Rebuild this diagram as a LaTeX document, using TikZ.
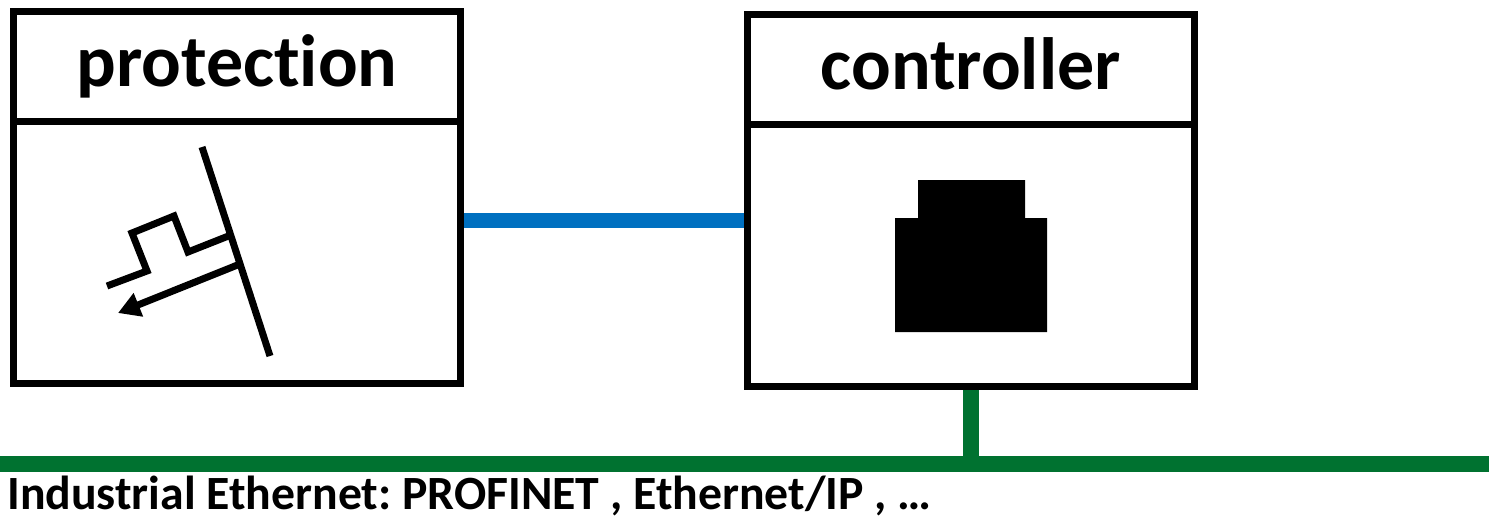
\documentclass[tikz,border=0pt]{standalone}
\usepackage{fontspec}
\setmainfont{Carlito}[Ligatures=NoCommon]
\usetikzlibrary{arrows.meta,backgrounds}
\definecolor{busgreen}{RGB}{0,114,48}
\definecolor{linkblue}{RGB}{0,112,192}
\def\px{0.75pt}
\frenchspacing
\tikzset{
  boxpart/.style={draw=black, fill=white, line width=7*\px, inner sep=0pt, outer sep=0pt, anchor=north west},
  titlepart/.style={boxpart, font=\fontsize{55.5pt}{60pt}\selectfont\bfseries, text height=40*\px, text depth=0pt},
  symline/.style={line width=7*\px, line cap=butt, line join=miter},
  buslink/.style={busgreen, line width=16*\px},
  bluelink/.style={linkblue, line width=15*\px},
}
\begin{document}
\begin{tikzpicture}[x=0.75pt,y=-0.75pt]
\useasboundingbox (0,0) rectangle (1489,519);
% protection
\node[titlepart, minimum width=447*\px, minimum height=110*\px] (ptitle) at (13.5,11) {protection};
\node[boxpart, minimum width=447*\px, minimum height=262*\px] (pbody) at (13.5,121) {};
% controller
\node[titlepart, minimum width=447.5*\px, minimum height=110*\px] (ctitle) at (747,14.5) {controller};
\node[boxpart, minimum width=447.5*\px, minimum height=261.5*\px] (cbody) at (747,124.5) {};
% coordinates
\coordinate (blueY) at (600,220);
\coordinate (busL) at (0,464);
\coordinate (busR) at (1489,464);
\coordinate (tap) at (971,464);
\begin{scope}[on background layer]
\draw[bluelink] (pbody.east |- blueY) -- (cbody.west |- blueY);
\draw[buslink] (cbody.south -| tap) -- (tap);
\end{scope}
\draw[buslink] (busL) -- (busR);
% bus label
\node[anchor=base west, inner sep=0pt, font=\fontsize{35.8pt}{40pt}\selectfont\bfseries] (buslabel) at (7,509) {Industrial Ethernet: PROFINET , Ethernet/IP , …};
% protection symbol
\draw[symline] (202,147) -- (270,356);
\draw[symline] (107,286) -- (147,271) -- (132,233) -- (174,216) -- (188,252) -- (231,235);
\draw[symline, -{Triangle[length=22*\px, width=24*\px]}] (240,264) -- (118,313);
% RJ45 symbol
\fill[black] (918,180) -- (1025,180) -- (1025,218) -- (1047,218) -- (1047,332) -- (895,332) -- (895,218) -- (918,218) -- cycle;
\end{tikzpicture}
\end{document}
